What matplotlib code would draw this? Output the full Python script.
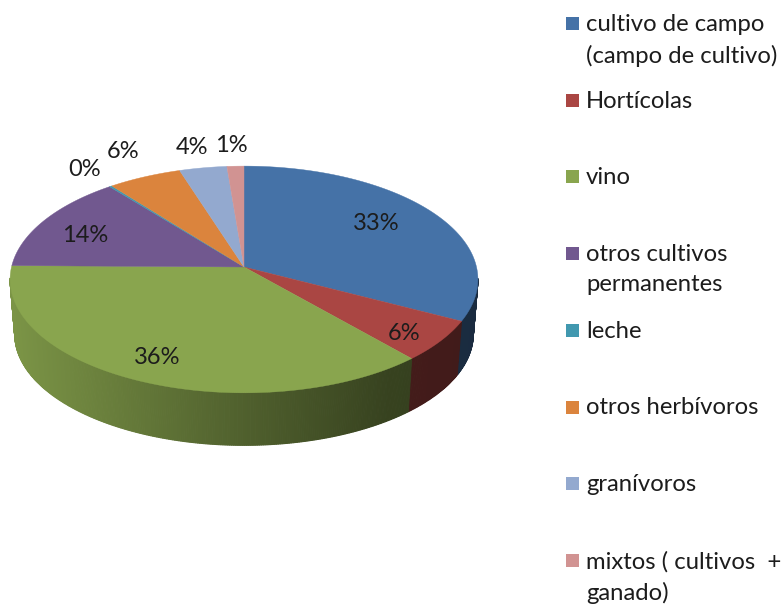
import numpy as np
import matplotlib
matplotlib.use("Agg")
import matplotlib.pyplot as plt
from matplotlib.patches import Rectangle

# datos
categorias = ["cultivo de campo\n(campo de cultivo)", "Hortícolas", "vino",
              "otros cultivos\npermanentes", "leche", "otros herbívoros",
              "granívoros", "mixtos ( cultivos  +\nganado)"]
valores = [32.6, 5.9, 36.7, 14.0, 0.2, 5.65, 3.65, 1.3]
etiquetas = ["33%", "6%", "36%", "14%", "0%", "6%", "4%", "1%"]
colores = ["#4572a7", "#aa4643", "#89a54e", "#71588f", "#4198af", "#db843d", "#93a9cf", "#d19392"]

# posicion de las etiquetas en pixeles
pos_etiquetas = [(376, 223), (404, 334), (157, 358), (85, 236), (85, 170), (123, 152), (192, 148), (231, 146)]

# geometria del pastel con perspectiva
CX, CY = 244, 267
R, S, K = 232.5, 112, 0.11
ALTO = 55
ESCALA_BASE = 0.98
TEXTO = "#1c1c1c"

plt.rcParams['font.family'] = ['Lato', 'DejaVu Sans']


def proyectar(theta, radio=1.0, base=False):
    # theta en radianes, 0 arriba y sentido horario
    u = radio * np.sin(theta)
    v = radio * np.cos(theta)
    d = 1 + K * v
    x = R * u / d
    y = -S * v / d
    if base:
        return CX + x * ESCALA_BASE, CY + ALTO + y * ESCALA_BASE
    return CX + x, CY + y


fig = plt.figure(figsize=(7.84, 6.04), dpi=100)
ax = fig.add_axes([0, 0, 1, 1])
ax.set_xlim(0, 784)
ax.set_ylim(604, 0)
ax.axis('off')

limites = np.cumsum([0] + valores) / np.sum(valores) * 2 * np.pi

# pared lateral con degradado
for i, color in enumerate(colores):
    base = np.array(matplotlib.colors.to_rgb(color))
    thetas = np.linspace(limites[i], limites[i + 1], max(2, int((limites[i + 1] - limites[i]) * 120)))
    for t0, t1 in zip(thetas[:-1], thetas[1:]):
        if np.cos((t0 + t1) / 2) > -0.1:
            continue  # parte de atras, no se ve
        x0, y0 = proyectar(t0)
        x1, y1 = proyectar(t1)
        x2, y2 = proyectar(t1, base=True)
        x3, y3 = proyectar(t0, base=True)
        f = np.interp((x0 + x1) / 2, [10, 245, 390, 478], [0.9, 0.58, 0.40, 0.38])
        c = base * f
        ax.fill([x0, x1, x2, x3], [y0, y1, y2, y3], color=c, lw=0.8, zorder=1)

# cara superior
for i, color in enumerate(colores):
    thetas = np.linspace(limites[i], limites[i + 1], 120)
    xs, ys = proyectar(thetas)
    ax.fill(np.r_[CX, xs], np.r_[CY, ys], color=color, lw=0.3, zorder=2)

for txt, (x, y) in zip(etiquetas, pos_etiquetas):
    ax.text(x, y, txt, ha='center', va='center', fontsize=17, color=TEXTO, zorder=3)

# leyenda
for i, (cat, color) in enumerate(zip(categorias, colores)):
    yc = 23.5 + i * 76.7
    ax.add_patch(Rectangle((566, yc - 6.5), 13, 13, facecolor=color, edgecolor='none'))
    ax.text(586, yc - 9.5, cat, ha='left', va='top', fontsize=17.2, color=TEXTO, linespacing=1.53)

fig.savefig("out.png", dpi=100, facecolor='white')
